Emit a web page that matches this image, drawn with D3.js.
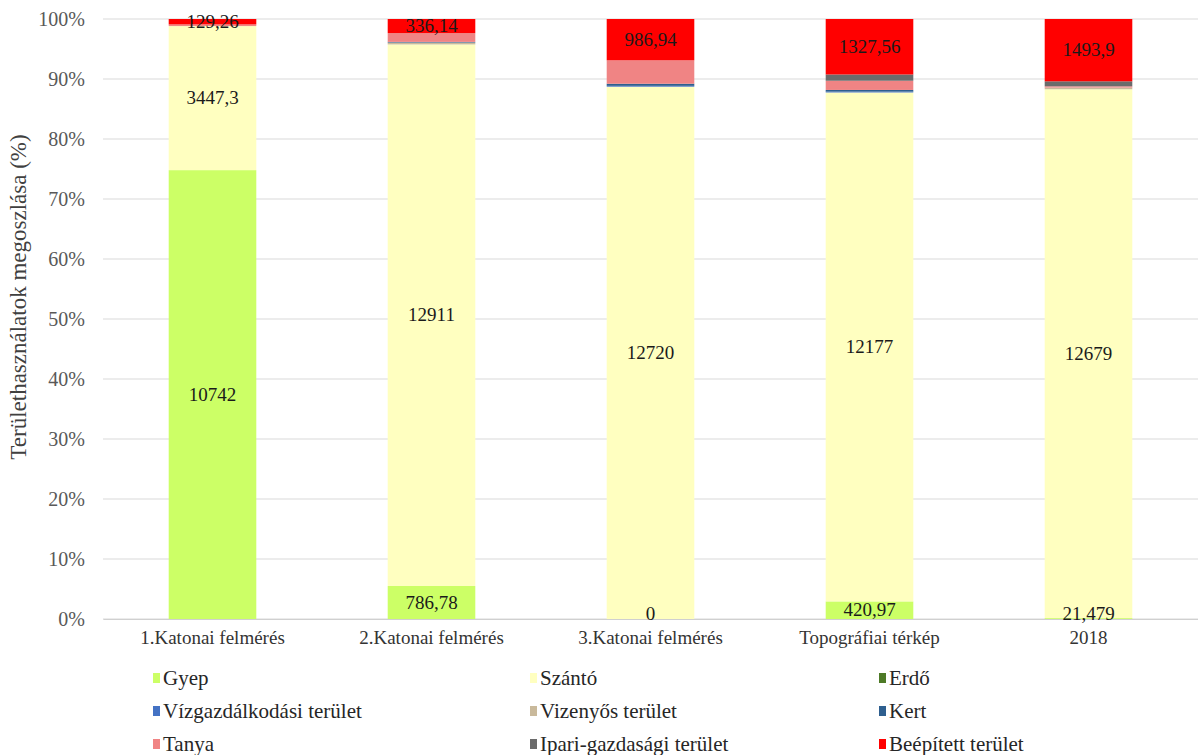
<!DOCTYPE html>
<html>
<head>
<meta charset="utf-8">
<script src="https://cdn.jsdelivr.net/npm/d3@7"></script>
<style>
  body { margin: 0; background: #fff; }
  text { font-family: "Liberation Serif", "Times New Roman", serif; }
</style>
</head>
<body>
<div id="chart"></div>
<script>
var svgWidth = 1198;
var svgHeight = 755;

// Categories and series values (ha), bottom to top of each stack
var categories = ["1.Katonai felmérés", "2.Katonai felmérés", "3.Katonai felmérés", "Topográfiai térkép", "2018"];
var gyep = [10742, 786.78, 0, 420.97, 21.479];
var szanto = [3447.3, 12911, 12720, 12177, 12679];
var erdo = [0, 0, 0, 0, 0];
var vizgazd = [0, 0, 20, 20, 0];
var vizenyos = [0, 45, 0, 0, 40];
var kert = [0, 15, 50, 40, 0];
var tanya = [40, 210, 560, 220, 30];
var ipari = [0, 0, 0, 150, 120];
var beepitett = [129.26, 336.14, 986.94, 1327.56, 1493.9];

var seriesNames = ["Gyep", "Szántó", "Erdő", "Vízgazdálkodási terület", "Vizenyős terület", "Kert", "Tanya", "Ipari-gazdasági terület", "Beépített terület"];
var seriesValues = [gyep, szanto, erdo, vizgazd, vizenyos, kert, tanya, ipari, beepitett];
var seriesColors = ["#ccff66", "#ffffc0", "#4e7a27", "#4472c4", "#c9b99b", "#2e5f8f", "#f08484", "#6b6b6b", "#ff0000"];
var labelled = ["Gyep", "Szántó", "Beépített terület"];
var yTicks = [0, 10, 20, 30, 40, 50, 60, 70, 80, 90, 100];

var margin = { top: 19, right: 0, bottom: 136, left: 103 };
var width = svgWidth - margin.left - margin.right;
var height = svgHeight - margin.top - margin.bottom;

var svg = d3.select("#chart")
  .append("svg")
  .attr("width", svgWidth)
  .attr("height", svgHeight);

var chartGroup = svg.append("g")
  .attr("transform", `translate(${margin.left}, ${margin.top})`);

// Build rows for the stack, one per category
var rows = categories.map(function(c, i) {
  var row = { category: c };
  seriesNames.forEach(function(s, j) { row[s] = seriesValues[j][i]; });
  return row;
});

var stack = d3.stack()
  .keys(seriesNames)
  .offset(d3.stackOffsetExpand);
var stacked = stack(rows);

var xBandScale = d3.scaleBand()
  .domain(categories)
  .range([0, width])
  .paddingInner(0.6)
  .paddingOuter(0.3);

var yLinearScale = d3.scaleLinear()
  .domain([0, 1])
  .range([height, 0]);

// Gridlines
chartGroup.append("g")
  .selectAll("line")
  .data(yTicks)
  .enter()
  .append("line")
  .attr("x1", 0)
  .attr("x2", width)
  .attr("y1", d => yLinearScale(d / 100))
  .attr("y2", d => yLinearScale(d / 100))
  .attr("stroke", "#d9d9d9")
  .attr("stroke-width", 1);

// Y axis tick labels
var leftAxis = d3.axisLeft(yLinearScale)
  .tickValues(yTicks.map(d => d / 100))
  .tickFormat(d => Math.round(d * 100) + "%")
  .tickSize(0)
  .tickPadding(18);

var yAxis = chartGroup.append("g").call(leftAxis);
yAxis.select(".domain").remove();
yAxis.selectAll("text")
  .attr("font-size", "20px")
  .attr("fill", "#595959");

// Bars
var layers = chartGroup.selectAll(".layer")
  .data(stacked)
  .enter()
  .append("g")
  .attr("class", "layer")
  .attr("fill", (d, i) => seriesColors[i]);

layers.selectAll("rect")
  .data(d => d)
  .enter()
  .append("rect")
  .attr("x", d => xBandScale(d.data.category))
  .attr("width", xBandScale.bandwidth())
  .attr("y", d => yLinearScale(d[1]))
  .attr("height", d => yLinearScale(d[0]) - yLinearScale(d[1]));

// Bottom axis
var bottomAxis = d3.axisBottom(xBandScale).tickSize(0).tickPadding(12);
var xAxis = chartGroup.append("g")
  .attr("transform", `translate(0, ${height})`)
  .call(bottomAxis);
xAxis.select(".domain").attr("stroke", "#d0d0d0");
xAxis.selectAll("text")
  .attr("font-size", "19px")
  .attr("fill", "#333");

// Data labels (labels of very thin bottom segments sit just above the axis)
var fmt = v => String(v).replace(".", ",");
stacked.forEach(function(layer, i) {
  if (labelled.indexOf(layer.key) < 0) return;
  chartGroup.append("g")
    .selectAll("text")
    .data(layer)
    .enter()
    .append("text")
    .attr("x", d => xBandScale(d.data.category) + xBandScale.bandwidth() / 2)
    .attr("y", d => Math.min((yLinearScale(d[0]) + yLinearScale(d[1])) / 2, height - 5))
    .attr("dy", "0.33em")
    .attr("text-anchor", "middle")
    .attr("font-size", "19px")
    .attr("fill", "#1a1a1a")
    .text(d => fmt(d.data[layer.key]));
});

// Y axis title
svg.append("text")
  .attr("transform", "rotate(-90)")
  .attr("x", -297)
  .attr("y", 26)
  .attr("text-anchor", "middle")
  .attr("font-size", "23px")
  .attr("fill", "#404040")
  .text("Területhasználatok megoszlása (%)");

// Legend, three columns
var legendCols = [153, 530, 879];
var legendRows = [678, 711, 744];
var legend = svg.append("g")
  .selectAll("g")
  .data(seriesNames)
  .enter()
  .append("g")
  .attr("transform", (d, i) => `translate(${legendCols[i % 3]}, ${legendRows[Math.floor(i / 3)]})`);

legend.append("rect")
  .attr("x", 0)
  .attr("y", -5)
  .attr("width", 7)
  .attr("height", 10)
  .attr("fill", (d, i) => seriesColors[i]);

legend.append("text")
  .attr("x", 10)
  .attr("dy", "0.35em")
  .attr("font-size", "21px")
  .attr("fill", "#262626")
  .text(d => d);
</script>
</body>
</html>
